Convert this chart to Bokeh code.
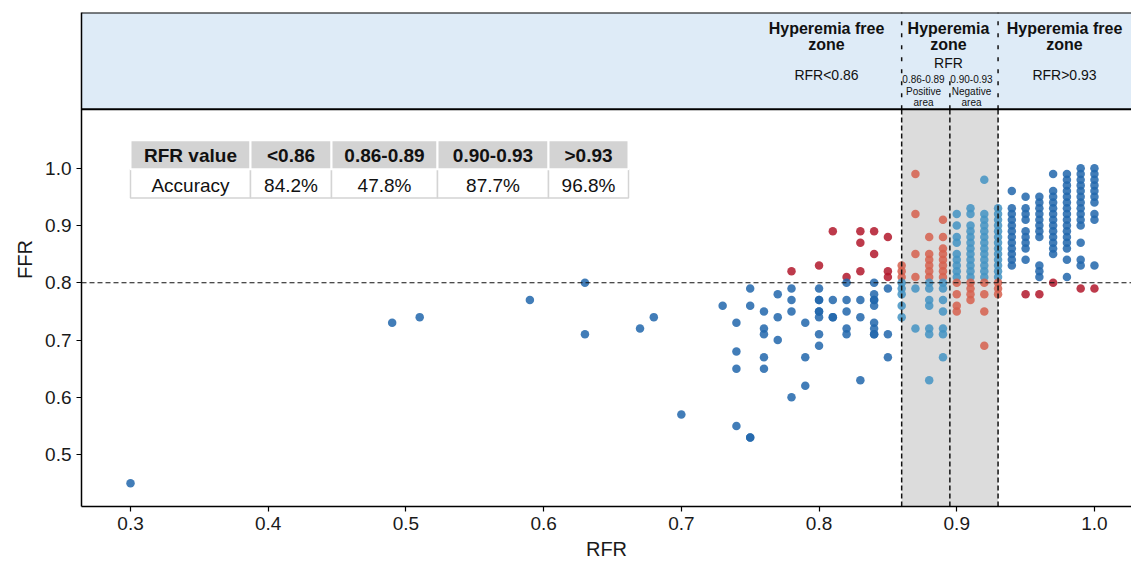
from bokeh.plotting import figure
from bokeh.models import Range1d, FixedTicker, Span, PrintfTickFormatter
from bokeh.embed import file_html
from bokeh.resources import INLINE
from bokeh.core.properties import value

# ---------------- data ----------------
rfr_values = [0.30, 0.49, 0.51, 0.59, 0.63, 0.67, 0.68, 0.70, 0.73, 0.74, 0.75, 0.76,
              0.77, 0.78, 0.79, 0.80, 0.81, 0.82, 0.83, 0.84, 0.85, 0.86, 0.87, 0.88,
              0.89, 0.90, 0.91, 0.92, 0.93, 0.94, 0.95, 0.96, 0.97, 0.98, 0.99, 1.00]

ffr_per_rfr = [
    [0.45],
    [0.73],
    [0.74],
    [0.77],
    [0.80, 0.71],
    [0.72],
    [0.74],
    [0.57],
    [0.76],
    [0.73, 0.68, 0.65, 0.55],
    [0.79, 0.76, 0.53, 0.53],
    [0.75, 0.72, 0.71, 0.67, 0.65],
    [0.78, 0.74, 0.70],
    [0.82, 0.79, 0.77, 0.75, 0.60],
    [0.73, 0.67, 0.62],
    [0.83, 0.79, 0.77, 0.77, 0.75, 0.75, 0.74, 0.71, 0.69],
    [0.89, 0.77, 0.74, 0.74],
    [0.81, 0.80, 0.77, 0.75, 0.72, 0.71],
    [0.89, 0.87, 0.82, 0.77, 0.74, 0.63],
    [0.89, 0.85, 0.80, 0.78, 0.77, 0.77, 0.76, 0.73, 0.72, 0.71, 0.71],
    [0.88, 0.82, 0.81, 0.79, 0.71, 0.67],
    [0.83, 0.82, 0.81, 0.80, 0.79, 0.78, 0.76, 0.74],
    [0.99, 0.92, 0.85, 0.81, 0.79, 0.72],
    [0.88, 0.85, 0.84, 0.83, 0.82, 0.81, 0.80, 0.79, 0.77, 0.76, 0.72, 0.71, 0.63],
    [0.91, 0.88, 0.86, 0.85, 0.84, 0.83, 0.82, 0.81, 0.80, 0.79, 0.77, 0.75, 0.72, 0.71, 0.67],
    [0.92, 0.90, 0.88, 0.87, 0.85, 0.84, 0.83, 0.82, 0.81, 0.80, 0.78, 0.76, 0.75],
    [0.93, 0.92, 0.90, 0.89, 0.88, 0.87, 0.86, 0.85, 0.84, 0.83, 0.82, 0.81, 0.80, 0.79, 0.78, 0.77],
    [0.98, 0.92, 0.91, 0.90, 0.89, 0.88, 0.87, 0.86, 0.85, 0.84, 0.83, 0.82, 0.81, 0.80, 0.78, 0.75, 0.69],
    [0.93, 0.92, 0.91, 0.90, 0.89, 0.88, 0.87, 0.86, 0.85, 0.84, 0.83, 0.82, 0.81, 0.80, 0.79, 0.78],
    [0.96, 0.93, 0.92, 0.91, 0.90, 0.89, 0.88, 0.87, 0.86, 0.85, 0.84, 0.83],
    [0.95, 0.93, 0.92, 0.91, 0.89, 0.88, 0.87, 0.86, 0.84, 0.78],
    [0.95, 0.94, 0.93, 0.92, 0.91, 0.90, 0.89, 0.88, 0.83, 0.82, 0.81, 0.78],
    [0.99, 0.96, 0.95, 0.94, 0.93, 0.92, 0.91, 0.90, 0.89, 0.88, 0.87, 0.86, 0.85, 0.80],
    [0.99, 0.98, 0.97, 0.96, 0.95, 0.94, 0.93, 0.92, 0.91, 0.90, 0.89, 0.88, 0.87, 0.86, 0.84, 0.81],
    [1.00, 0.99, 0.98, 0.97, 0.96, 0.95, 0.94, 0.93, 0.92, 0.91, 0.90, 0.87, 0.84, 0.83, 0.79],
    [1.00, 0.99, 0.98, 0.97, 0.96, 0.95, 0.94, 0.92, 0.91, 0.83, 0.79],
]

x_ticks = [0.3, 0.4, 0.5, 0.6, 0.7, 0.8, 0.9, 1.0]
y_ticks = [0.5, 0.6, 0.7, 0.8, 0.9, 1.0]

table_header = ["RFR value", "<0.86", "0.86-0.89", "0.90-0.93", ">0.93"]
table_values = ["Accuracy", "84.2%", "47.8%", "87.7%", "96.8%"]

ffr_cutoff = 0.80
zone_low, zone_mid, zone_high = 0.86, 0.895, 0.93

# ---------------- layout ----------------
W, H = 1131, 562
L, R, T, B = 81, 1131, 12, 507
x0, x1 = 0.2644, 1.0269
y0, y1 = 0.4094, 1.2718


def px2x(px):
    return x0 + (px - L) / (R - L) * (x1 - x0)


def py2y(py):
    return y1 - (py - T) / (B - T) * (y1 - y0)


strip_bottom = py2y(109)
FONT = value("Liberation Sans")

p = figure(width=W, height=H, output_backend="svg", toolbar_location=None,
           x_range=Range1d(x0, x1), y_range=Range1d(y0, y1))
p.min_border_left = L
p.min_border_right = 0
p.min_border_top = T
p.min_border_bottom = H - B
p.outline_line_color = None
p.grid.visible = False
p.background_fill_color = "white"
p.border_fill_color = "white"

for ax in (p.xaxis, p.yaxis):
    ax.axis_line_color = "black"
    ax.axis_line_width = 1.5
    ax.major_tick_line_color = "black"
    ax.major_tick_line_width = 1.2
    ax.major_tick_out = 5
    ax.major_tick_in = 0
    ax.minor_tick_line_color = None
    ax.major_label_text_font = "Liberation Sans"
    ax.major_label_text_font_size = "19px"
    ax.major_label_text_color = "#1a1a1a"
    ax.axis_label_text_font = "Liberation Sans"
    ax.axis_label_text_font_size = "20px"
    ax.axis_label_text_font_style = "normal"
    ax.axis_label_text_color = "#1a1a1a"
    ax.formatter = PrintfTickFormatter(format="%.1f")

p.xaxis.ticker = FixedTicker(ticks=x_ticks)
p.yaxis.ticker = FixedTicker(ticks=y_ticks)
p.xaxis.axis_label = "RFR"
p.yaxis.axis_label = "FFR"
p.xaxis.axis_label_standoff = 5
p.yaxis.axis_label_standoff = 6

# header strip
p.quad(left=x0, right=x1, bottom=strip_bottom, top=y1, fill_color="#deebf7", line_color=None)
p.add_layout(Span(location=y1, dimension="width", line_color="black", line_width=2))
p.add_layout(Span(location=strip_bottom, dimension="width", line_color="black", line_width=2))

# grey zone
p.quad(left=zone_low, right=zone_high, bottom=y0, top=strip_bottom, fill_color="#dcdcdc", line_color=None)

# table
col_edges = [130, 250, 331, 437, 548, 628]
row_edges = [140, 169, 198]
lefts = [px2x(v) for v in col_edges[:-1]]
rights = [px2x(v) for v in col_edges[1:]]
centers = [(a + b) / 2 for a, b in zip(lefts, rights)]
p.quad(left=lefts, right=rights, bottom=py2y(row_edges[2]), top=py2y(row_edges[1]),
       fill_color="white", line_color="#d4d4d4", line_width=1.5)
p.quad(left=lefts, right=rights, bottom=py2y(row_edges[1]), top=py2y(row_edges[0]),
       fill_color="#d3d3d3", line_color="white", line_width=2)
p.text(x=centers, y=[py2y(155)] * 5, text=table_header, text_font=FONT, text_font_size="19px",
       text_font_style="bold", text_align="center", text_baseline="middle", text_color="#111111")
p.text(x=centers, y=[py2y(185)] * 5, text=table_values, text_font=FONT, text_font_size="19px",
       text_align="center", text_baseline="middle", text_color="#111111")

# points
xs, ys, colors = [], [], []
for r, fl in zip(rfr_values, ffr_per_rfr):
    for f in fl:
        in_zone = zone_low <= r <= zone_high
        correct = (r < zone_mid) == (f <= ffr_cutoff)
        if in_zone:
            c = "#4393c3" if correct else "#d6604d"
        else:
            c = "#2166ac" if correct else "#b2182b"
        xs.append(r)
        ys.append(f)
        colors.append(c)
p.scatter(x=xs, y=ys, size=8.5, fill_color=colors, fill_alpha=0.85, line_color=None)

# reference lines
zone_lines = [zone_low, zone_mid, zone_high]
p.segment(x0=zone_lines, x1=zone_lines, y0=[y0] * 3, y1=[strip_bottom] * 3,
          line_color="#111111", line_width=1.5, line_dash="5 3")
p.segment(x0=[zone_low, zone_high], x1=[zone_low, zone_high], y0=[strip_bottom] * 2, y1=[y1] * 2,
          line_color="#111111", line_width=1.5, line_dash="4 8")
p.segment(x0=[zone_mid], x1=[zone_mid], y0=[strip_bottom], y1=[py2y(74)],
          line_color="#111111", line_width=1.5, line_dash="4 8")
p.add_layout(Span(location=ffr_cutoff, dimension="width", line_color="#111111",
                  line_width=1.2, line_dash="5 3"))

# header texts
bold_txt = dict(text_font=FONT, text_font_size="16px", text_font_style="bold",
                text_align="center", text_baseline="middle", text_color="#111111")
reg_txt = dict(text_font=FONT, text_font_size="14px", text_align="center",
               text_baseline="middle", text_color="#111111")
small_txt = dict(text_font=FONT, text_font_size="10px", text_align="center",
                 text_baseline="middle", text_color="#111111")

left_c, mid_c, right_c = px2x(826), px2x(948), px2x(1064)
p.text(x=[left_c, mid_c, right_c], y=[py2y(28)] * 3,
       text=["Hyperemia free", "Hyperemia", "Hyperemia free"], **bold_txt)
p.text(x=[left_c, mid_c, right_c], y=[py2y(44)] * 3, text=["zone", "zone", "zone"], **bold_txt)
p.text(x=[left_c, right_c], y=[py2y(75)] * 2, text=["RFR<0.86", "RFR>0.93"], **reg_txt)
p.text(x=[mid_c], y=[py2y(63)], text=["RFR"], **reg_txt)
pos_c, neg_c = px2x(923), px2x(971)
p.text(x=[pos_c, neg_c], y=[py2y(79)] * 2, text=["0.86-0.89", "0.90-0.93"], **small_txt)
p.text(x=[pos_c, neg_c], y=[py2y(91)] * 2, text=["Positive", "Negative"], **small_txt)
p.text(x=[pos_c, neg_c], y=[py2y(102)] * 2, text=["area", "area"], **small_txt)

open("out.html", "w").write(file_html(p, INLINE))
